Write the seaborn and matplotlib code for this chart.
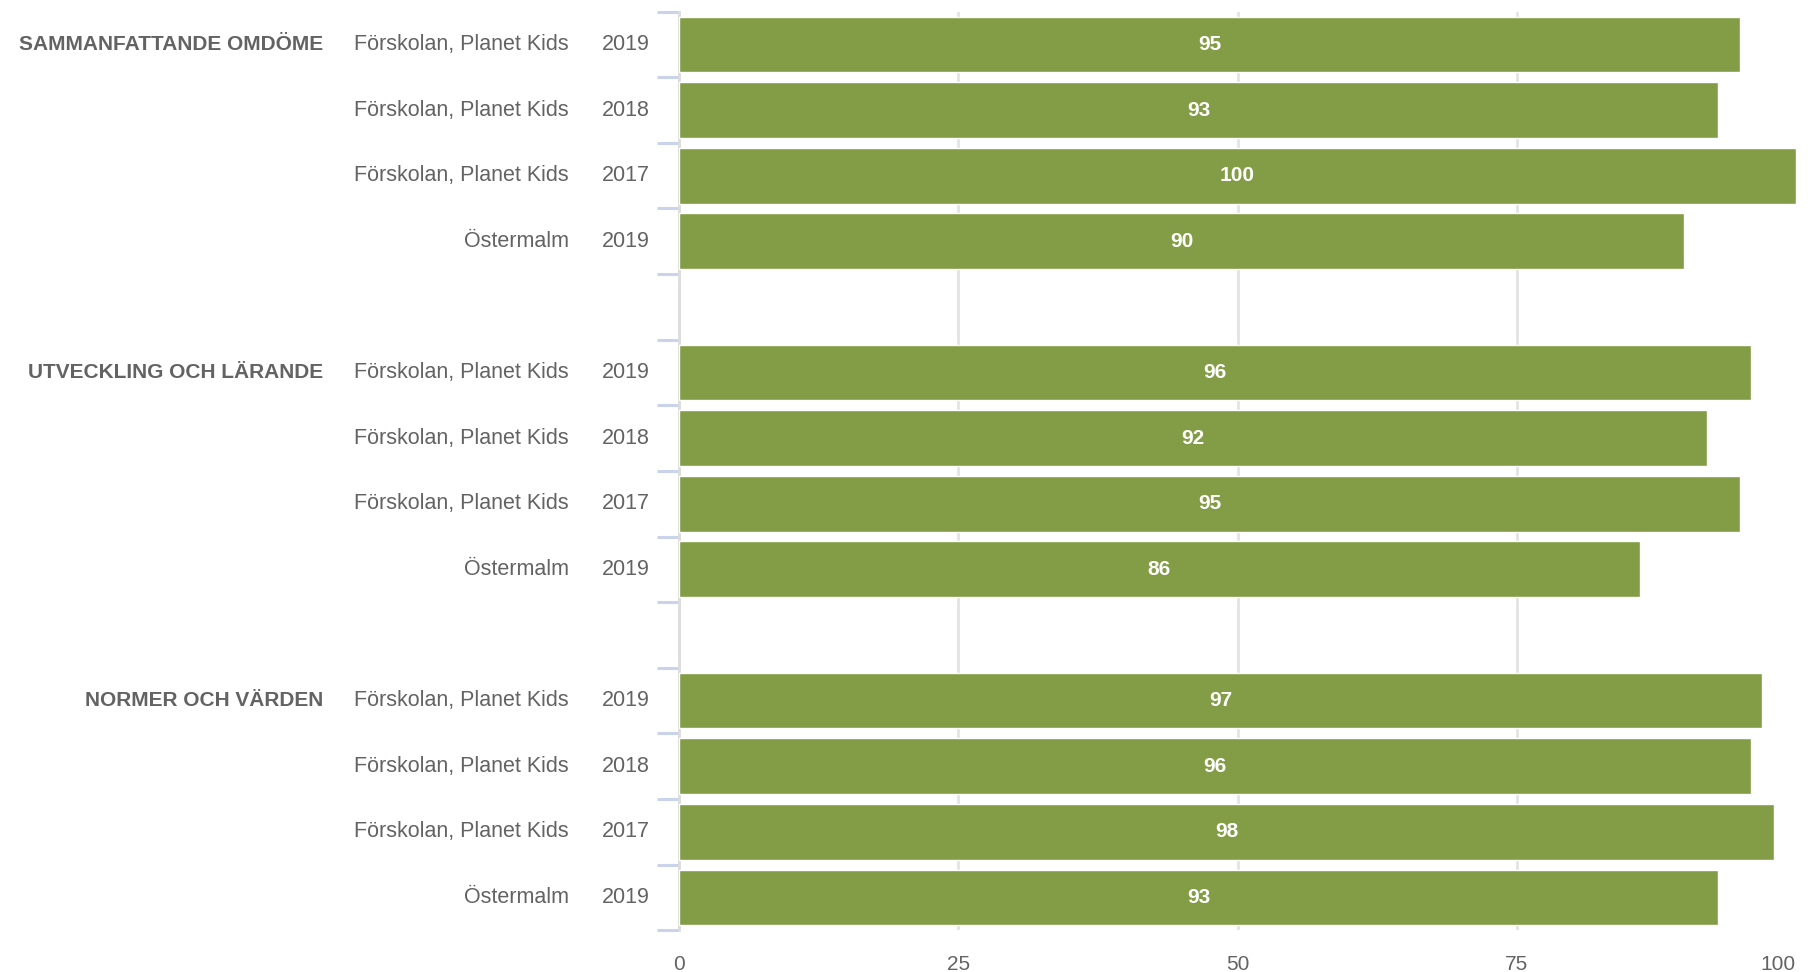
import numpy as np
import pandas as pd
import matplotlib
matplotlib.use("Agg")
import matplotlib.pyplot as plt
import matplotlib.transforms as mtransforms
import seaborn as sns

# Data
groups = ["SAMMANFATTANDE OMDÖME", "UTVECKLING OCH LÄRANDE", "NORMER OCH VÄRDEN"]
units = ["Förskolan, Planet Kids", "Förskolan, Planet Kids", "Förskolan, Planet Kids", "Östermalm"]
years = ["2019", "2018", "2017", "2019"]
values_omdome = [95, 93, 100, 90]
values_utveckling = [96, 92, 95, 86]
values_normer = [97, 96, 98, 93]

all_values = [values_omdome, values_utveckling, values_normer]

# Build rows, with an empty slot between groups
rows = []
order = []
pos = 0
for g, vals in zip(groups, all_values):
    for u, y, v in zip(units, years, vals):
        key = f"r{pos}"
        rows.append({"key": key, "group": g, "unit": u, "year": y, "value": v, "pos": pos})
        order.append(key)
        pos += 1
    if g != groups[-1]:
        order.append(f"gap{pos}")
        pos += 1
df = pd.DataFrame(rows)

GREEN = "#829D45"
GREY = "#636363"

sns.set_theme(style="white")
plt.rcParams["font.family"] = ["Liberation Sans", "DejaVu Sans"]

fig = plt.figure(figsize=(18.11, 9.72), dpi=100)
ax = fig.add_axes([0.375, 0.043, 0.6167, 0.945])

sns.barplot(data=df, x="value", y="key", order=order, color=GREEN,
            saturation=1, width=0.85, ax=ax, errorbar=None, zorder=3)

for cont in ax.containers:
    ax.bar_label(cont, labels=[f"{v:g}" for v in cont.datavalues], label_type="center",
                 color="white", fontweight="bold", fontsize=15)

ax.set_xlim(0, 100)
ax.set_xticks([0, 25, 50, 75, 100])
ax.tick_params(axis="x", length=0, pad=18, labelsize=15, labelcolor=GREY)
ax.get_xticklabels()[-1].set_horizontalalignment("right")
ax.xaxis.grid(True, color="#E3E3E3", linewidth=2, zorder=0)
ax.xaxis.get_gridlines()[-1].set_visible(False)
ax.set_axisbelow(True)

ax.set_yticks([])
ax.set_yticks(np.arange(-0.5, len(order), 1), minor=True)
ax.tick_params(axis="y", which="minor", length=16, width=2.2, color="#C9D3EA", left=True)
ax.set_xlabel("")
ax.set_ylabel("")

for s in ["top", "right", "bottom"]:
    ax.spines[s].set_visible(False)
ax.spines["left"].set_color("#DCDCDC")
ax.spines["left"].set_linewidth(2)

trans = mtransforms.blended_transform_factory(fig.transFigure, ax.transData)
for _, r in df.iterrows():
    ax.text(0.3142, r["pos"], r["unit"], transform=trans, ha="right", va="center",
            fontsize=15.5, color=GREY)
    ax.text(0.3590, r["pos"], r["year"], transform=trans, ha="right", va="center",
            fontsize=15.5, color=GREY)
first = df.groupby("group", sort=False)["pos"].min()
for g, p in first.items():
    ax.text(0.1784, p, g, transform=trans, ha="right", va="center",
            fontsize=15, color=GREY, fontweight="bold")

fig.savefig("out.png", dpi=100)
